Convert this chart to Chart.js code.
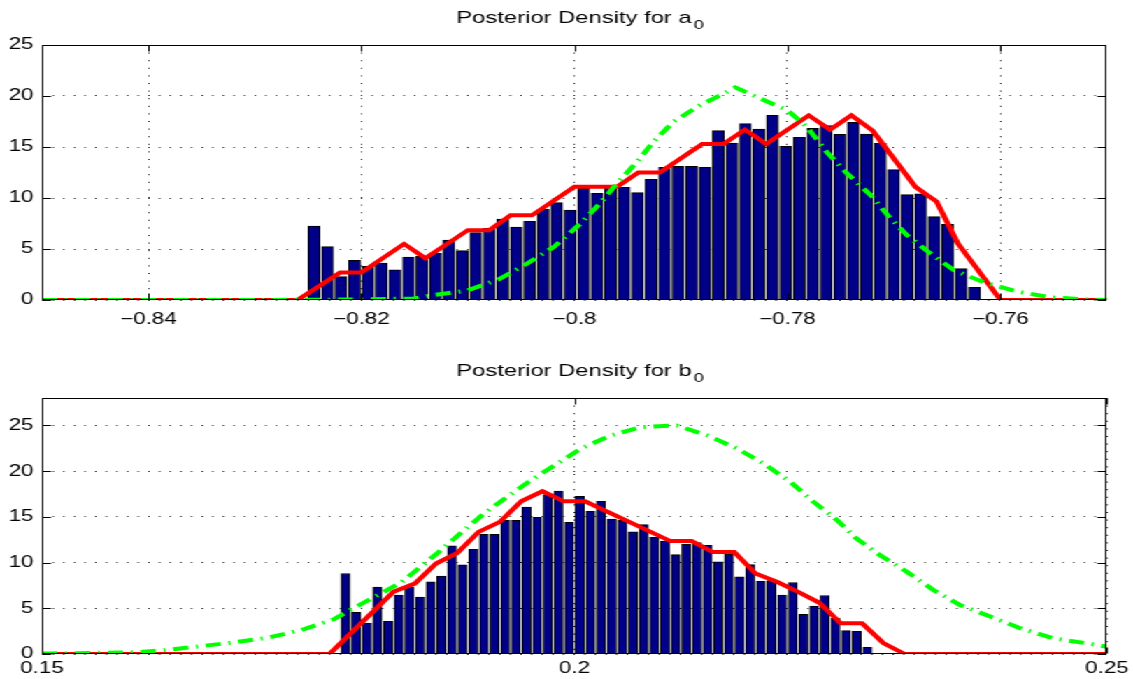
<!DOCTYPE html>
<html>
<head>
<meta charset="utf-8">
<script src="https://cdn.jsdelivr.net/npm/chart.js@4.4.0/dist/chart.umd.min.js"></script>
<style>
html,body{margin:0;padding:0;background:#fff;overflow:hidden;width:1133px;height:679px;}
#wrap{position:absolute;left:0;top:0;width:810px;height:679px;transform-origin:0 0;transform:scaleX(1.39877);}
.box{position:absolute;left:0;width:810px;}
</style>
</head>
<body>
<div id="wrap">
  <div class="box" style="top:0;height:340px"><canvas id="c1"></canvas></div>
  <div class="box" style="top:340px;height:339px"><canvas id="c2"></canvas></div>
</div>
<script>
// ---------- Top panel: a0 ----------
const titleA = 'Posterior Density for a';
const titleAsub = '0';
const barAx = [-0.82446,-0.82319,-0.82193,-0.82066,-0.81939,-0.81813,-0.81686,-0.81559,-0.81433,-0.81306,
               -0.81180,-0.81054,-0.80927,-0.80800,-0.80674,-0.80547,-0.80420,-0.80294,-0.80167,-0.80040,
               -0.79915,-0.79788,-0.79661,-0.79535,-0.79408,-0.79281,-0.79155,-0.79028,-0.78901,-0.78775,
               -0.78649,-0.78522,-0.78396,-0.78269,-0.78142,-0.78016,-0.77889,-0.77762,-0.77636,-0.77509,
               -0.77383,-0.77257,-0.77130,-0.77003,-0.76877,-0.76750,-0.76623,-0.76497,-0.76370,-0.76243];
const barAy = [7.25,5.23,2.29,3.89,3.30,3.63,2.97,4.22,4.28,4.57,
               5.88,4.84,6.60,7.03,7.94,7.16,7.71,8.89,9.54,8.82,
               10.95,10.46,11.05,11.05,10.52,11.83,13.0,13.1,13.1,13.0,
               16.6,15.39,17.29,16.76,18.1,15.06,15.95,16.83,17.09,16.24,
               17.42,16.27,15.36,12.78,10.33,10.42,8.17,7.42,3.07,1.24];
const redAx = [-0.85,-0.826,-0.822,-0.820,-0.816,-0.814,-0.810,-0.808,-0.806,-0.804,-0.800,-0.796,-0.794,-0.792,
               -0.788,-0.786,-0.784,-0.782,-0.778,-0.776,-0.774,-0.772,-0.768,-0.766,-0.764,-0.760,-0.75];
const redAy = [0,0,2.7,2.7,5.5,4.1,6.85,6.85,8.3,8.3,11.1,11.1,12.5,12.5,
               15.3,15.3,16.7,15.3,18.1,16.7,18.1,16.6,11.1,9.65,5.55,0,0];
const greenAx = [-0.85,-0.83,-0.82,-0.8151,-0.8132,-0.8101,-0.8071,-0.8044,-0.8019,-0.7994,-0.7976,-0.796,
                 -0.7941,-0.7926,-0.7907,-0.7882,-0.7857,-0.7849,-0.7826,-0.78,-0.7782,-0.7763,-0.7744,-0.7722,
                 -0.7706,-0.7688,-0.7666,-0.7644,-0.7616,-0.7584,-0.7553,-0.7522,-0.75];
const greenAy = [0,0,0.05,0.15,0.49,0.92,2.03,3.6,5.23,7.52,9.48,11.44,
                 13.56,15.5,17.48,19.1,20.4,20.85,19.77,18.6,17.0,14.5,12.4,10.3,
                 8.33,6.37,4.58,2.94,1.75,0.82,0.26,0.07,0];
const xTicksA = [-0.84,-0.82,-0.8,-0.78,-0.76];

// ---------- Bottom panel: b0 ----------
const titleB = 'Posterior Density for b';
const titleBsub = '0';
const barBx = [0.1785,0.1795,0.1805,0.1815,0.1825,0.1835,0.1845,0.1855,0.1865,0.1875,
               0.1885,0.1895,0.1905,0.1915,0.1925,0.1935,0.1945,0.1955,0.1965,0.1975,
               0.1985,0.1995,0.2005,0.2015,0.2025,0.2035,0.2045,0.2055,0.2065,0.2075,
               0.2085,0.2095,0.2105,0.2115,0.2125,0.2135,0.2145,0.2155,0.2165,0.2175,
               0.2185,0.2195,0.2205,0.2215,0.2225,0.2235,0.2245,0.2255,0.2265,0.2275];
const barBy = [8.8,4.55,3.38,7.31,3.56,6.44,7.31,6.22,7.89,8.51,
               11.82,9.75,11.45,13.09,13.09,14.62,14.62,16.07,14.95,17.45,
               17.82,14.4,17.24,15.6,16.69,14.76,14.62,13.35,14.15,12.76,
               12.36,10.87,12.0,12.18,11.89,10.07,10.91,8.44,9.78,7.96,
               8.04,6.44,7.82,4.33,5.24,6.4,3.93,2.55,2.47,0.73];
const redBx = [0.15,0.177,0.183,0.185,0.187,0.189,0.191,0.193,0.195,0.197,0.199,0.201,
               0.209,0.211,0.213,0.215,0.217,0.219,0.221,0.223,0.225,0.227,0.229,0.231,0.25];
const redBy = [0,0,6.8,7.7,9.9,11.05,13.35,14.45,16.7,17.8,16.7,16.7,
               12.35,12.35,11.15,11.15,8.8,7.9,6.8,5.6,3.35,3.35,1.2,0,0];
const greenBx = [0.15,0.1508,0.1586,0.1618,0.168,0.1711,0.1743,0.1774,0.1805,0.1837,0.1871,0.1893,
                 0.1915,0.1937,0.1959,0.1981,0.2006,0.2034,0.2062,0.2096,0.2125,0.2153,0.2178,0.2203,
                 0.2225,0.2247,0.2265,0.2287,0.2312,0.2337,0.2362,0.2391,0.2419,0.245,0.2481,0.25];
const greenBy = [0.05,0.06,0.18,0.44,1.27,1.75,2.6,3.8,5.8,7.8,11.0,13.2,
                 15.36,17.2,19.0,20.6,22.46,23.9,24.8,25.0,23.9,22.46,20.8,18.8,
                 16.6,14.6,12.6,10.8,9.0,7.0,5.35,4.07,2.8,1.7,1.17,0.8];
const xTicksB = [0.15,0.2,0.25];

const yTicks = [0,5,10,15,20,25];

// ---------- helpers ----------
const FONT = "'Liberation Sans', Arial, Helvetica, sans-serif";
const pts = (xs, ys) => xs.map((x, i) => ({x: x, y: ys[i]}));
const fmt = v => (v < 0 ? '\u2212' + String(Math.abs(v)) : String(v));

const framePlugin = {
  id: 'frame',
  afterDatasetsDraw(chart) {
    const ctx = chart.ctx, a = chart.chartArea, sx = chart.scales.x, sy = chart.scales.y;
    const L = Math.round(a.left) + 0.5, R = Math.round(a.right) - 0.5;
    const T = Math.round(a.top) + 0.5, B = Math.round(a.bottom) - 0.5;
    ctx.save();
    ctx.strokeStyle = '#000';
    ctx.lineWidth = 1;
    ctx.setLineDash([]);
    ctx.strokeRect(L, T, R - L, B - T);
    const len = 6;
    ctx.beginPath();
    sx.ticks.forEach(t => {
      const px = Math.round(sx.getPixelForValue(t.value)) + 0.5;
      ctx.moveTo(px, B); ctx.lineTo(px, B - len);
      ctx.moveTo(px, T); ctx.lineTo(px, T + len);
    });
    sy.ticks.forEach(t => {
      const py = Math.round(sy.getPixelForValue(t.value)) + 0.5;
      ctx.moveTo(L, py); ctx.lineTo(L + len, py);
      ctx.moveTo(R, py); ctx.lineTo(R - len, py);
    });
    ctx.stroke();
    ctx.restore();
  }
};

// title with a real subscript, centred over the plot area
const subTitlePlugin = {
  id: 'subTitle',
  afterDraw(chart, args, opts) {
    const ctx = chart.ctx, a = chart.chartArea;
    ctx.save();
    ctx.fillStyle = '#000';
    ctx.textBaseline = 'alphabetic';
    ctx.textAlign = 'left';
    ctx.font = '17px ' + FONT;
    const w1 = ctx.measureText(opts.main).width;
    ctx.font = '13px ' + FONT;
    const w2 = ctx.measureText(opts.sub).width;
    const gap = 1.5;
    const cx = (a.left + a.right) / 2 + 4;
    const x0 = cx - (w1 + gap + w2) / 2;
    const yb = a.top - 22.3;
    ctx.font = '17px ' + FONT;
    ctx.fillText(opts.main, x0, yb);
    ctx.font = '13px ' + FONT;
    ctx.fillText(opts.sub, x0 + w1 + gap, yb + 6);
    ctx.restore();
  }
};

function makeChart(id, cfg) {
  return new Chart(document.getElementById(id), {
    type: 'bar',
    data: {
      datasets: [
        { type: 'line', data: pts(cfg.gx, cfg.gy), borderColor: '#00ff00', borderWidth: 4,
          borderDash: [11, 5.5, 1.5, 5.5], pointRadius: 0, fill: false, tension: 0, order: 0 },
        { type: 'line', data: pts(cfg.rx, cfg.ry), borderColor: '#ff0000', borderWidth: 4,
          pointRadius: 0, fill: false, tension: 0, order: 1 },
        { type: 'bar', data: pts(cfg.bx, cfg.by), backgroundColor: '#000088', borderColor: '#000000',
          borderWidth: 1, barThickness: cfg.bw, order: 2 }
      ]
    },
    options: {
      responsive: true, maintainAspectRatio: false, animation: false, devicePixelRatio: 1,
      layout: { padding: { left: 0, right: 18.6, top: cfg.top, bottom: 0 } },
      plugins: {
        legend: { display: false },
        tooltip: { enabled: false },
        title: { display: false },
        subTitle: { main: cfg.title, sub: cfg.sub }
      },
      scales: {
        x: {
          type: 'linear', min: cfg.xmin, max: cfg.xmax, offset: false, bounds: 'data',
          afterBuildTicks: s => { s.ticks = cfg.xt.map(v => ({ value: v })); },
          afterFit: s => { s.height = cfg.xh; s.paddingLeft = 0; s.paddingRight = 0; },
          grid: { offset: false, drawTicks: false, color: '#222', lineWidth: 1 },
          border: { display: false, dash: [1, 6.6] },
          ticks: { autoSkip: false, maxRotation: 0, minRotation: 0, padding: cfg.xpad, color: '#000',
                   font: { family: FONT, size: 16 }, callback: v => fmt(v) }
        },
        y: {
          type: 'linear', min: 0, max: cfg.ymax, bounds: 'data',
          afterBuildTicks: s => { s.ticks = yTicks.map(v => ({ value: v })); },
          afterFit: s => { s.width = 30; s.paddingTop = 0; s.paddingBottom = 0; },
          grid: { drawTicks: false, color: '#222', lineWidth: 1 },
          border: { display: false, dash: [1, 6.6] },
          ticks: { padding: 6, color: '#000', font: { family: FONT, size: 16 }, callback: v => fmt(v) }
        }
      }
    },
    plugins: [framePlugin, subTitlePlugin]
  });
}

makeChart('c1', { title: titleA, sub: titleAsub, bx: barAx, by: barAy, rx: redAx, ry: redAy, gx: greenAx, gy: greenAy,
  xt: xTicksA, xmin: -0.85, xmax: -0.75, ymax: 25, bw: 8.4, xh: 40, xpad: 10, top: 45 });
makeChart('c2', { title: titleB, sub: titleBsub, bx: barBx, by: barBy, rx: redBx, ry: redBy, gx: greenBx, gy: greenBy,
  xt: xTicksB, xmin: 0.15, xmax: 0.25, ymax: 28, bw: 6.4, xh: 25, xpad: 5, top: 58 });
</script>
</body>
</html>
